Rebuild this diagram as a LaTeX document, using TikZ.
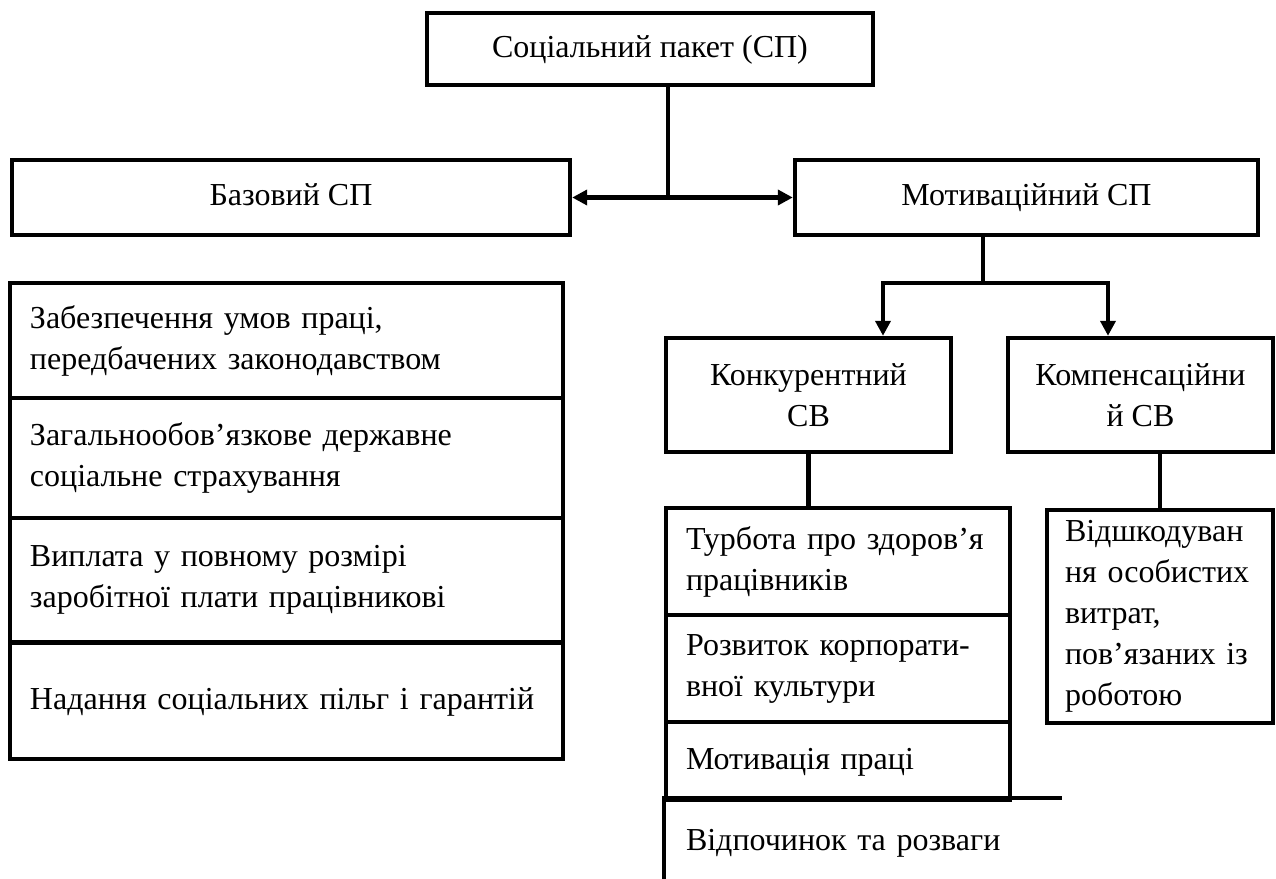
\documentclass[tikz,border=0pt]{standalone}
\usepackage{fontspec}
\setmainfont{Liberation Serif}
\usetikzlibrary{arrows.meta}

\begin{document}
\begin{tikzpicture}[x=0.5pt, y=-0.5pt,
  >={Triangle[length=7.5pt,width=7.5pt]},
  every node/.style={font=\fontsize{16pt}{20.5pt}\selectfont},
  box/.style={draw, line width=2.2pt, rectangle, inner sep=0pt, align=center},
  oneline/.style={text height=11.5pt, text depth=3.5pt},
  item/.style={box, align=left, inner xsep=10pt},
  link/.style={line width=2.2pt}]

  \useasboundingbox (0,0) rectangle (1276,879);

  % top level and the two kinds of package
  \node[box, oneline, minimum width=223pt, minimum height=36pt] (soc) at (650,49) {Соціальний пакет (СП)};
  \node[box, oneline, minimum width=279pt, minimum height=37.5pt] (baz) at (291,197.5) {Базовий СП};
  \node[box, oneline, minimum width=231.5pt, minimum height=37.5pt] (mot) at (1026.5,197.5) {Мотиваційний СП};

  % base package items
  \node[item, text width=256.5pt, minimum height=57.5pt] (b1) at (286.5,340.5)
       {Забезпечення умов праці,\\передбачених законодавством};
  \node[item, text width=256.5pt, minimum height=60pt] (b2) at (286.5,458)
       {Загальнообов’язкове державне\\соціальне страхування};
  \node[item, text width=256.5pt, minimum height=62pt] (b3) at (286.5,580)
       {Виплата у повному розмірі\\заробітної плати працівникові};
  \node[item, oneline, text width=256.5pt, minimum height=58pt] (b4) at (286.5,701)
       {Надання соціальних пільг і гарантій};

  % motivational package split
  \node[box, minimum width=142.5pt, minimum height=57pt] (konk) at (808.5,395) {Конкурентний\\СВ};
  \node[box, minimum width=132.5pt, minimum height=57pt] (komp) at (1140.5,395) {Компенсаційни\\й СВ};

  \node[item, text width=152pt, minimum height=53.5pt] (t1) at (838,561.5)
       {Турбота про здоров’я\\працівників};
  \node[item, text width=152pt, minimum height=53.5pt] (t2) at (838,668.5)
       {Розвиток корпорати-\\вної культури};
  \node[item, oneline, text width=152pt, minimum height=39pt] (t3) at (838,761)
       {Мотивація праці};
  \node[item, oneline, draw=none, text width=177pt, minimum height=42pt] (t4) at (863,842)
       {Відпочинок та розваги};
  \draw[link] (t4.south west) |- (t4.north east);

  \node[item, inner xsep=9pt, text width=95pt, minimum height=106.5pt] (vidsh) at (1160,616.5)
       {Відшкодуван\\ня особистих\\витрат,\\пов’язаних із\\роботою};

  % connectors
  \coordinate (hub) at (668,197.5);
  \draw[link] (soc.south -| hub) -- (hub);
  \draw[link,<->] (baz.east) -- (mot.west);

  \coordinate (split) at (983,283);
  \coordinate (kl) at (883,283);
  \coordinate (kr) at (1108,283);
  \draw[link] (mot.south -| split) -- (split);
  \draw[link,->] (split) -| (kl |- konk.north);
  \draw[link,->] (split) -| (kr |- komp.north);

  \draw[link] (konk.south) -- (konk.south |- t1.north);
  \draw[link] (vidsh.north) -- (vidsh.north |- komp.south);
\end{tikzpicture}
\end{document}
